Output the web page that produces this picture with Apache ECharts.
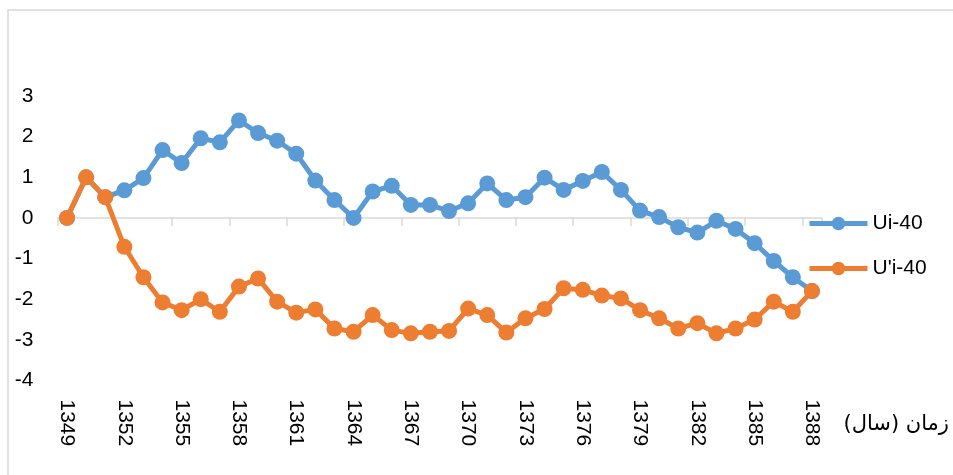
<!DOCTYPE html>
<html>
<head>
<meta charset="utf-8">
<script src="https://cdn.jsdelivr.net/npm/echarts@6/dist/echarts.min.js"></script>
<style>
    html, body {margin: 0; padding: 0; background: #fff;}
    #main {width: 953px; height: 475px;}
</style>
</head>
<body>
<div id="main"></div>
<script>
var years = ['1349', '1350', '1351', '1352', '1353', '1354', '1355', '1356', '1357', '1358',
    '1359', '1360', '1361', '1362', '1363', '1364', '1365', '1366', '1367', '1368',
    '1369', '1370', '1371', '1372', '1373', '1374', '1375', '1376', '1377', '1378',
    '1379', '1380', '1381', '1382', '1383', '1384', '1385', '1386', '1387', '1388'];
var ui = [0, 1.0, 0.51, 0.68, 0.98, 1.67, 1.35, 1.96, 1.86, 2.40,
    2.09, 1.90, 1.58, 0.92, 0.44, 0.0, 0.65, 0.79, 0.32, 0.32,
    0.17, 0.36, 0.85, 0.44, 0.51, 0.99, 0.69, 0.91, 1.13, 0.69,
    0.18, 0.02, -0.23, -0.36, -0.07, -0.27, -0.62, -1.06, -1.46, -1.80];
var uiPrime = [0, 1.0, 0.51, -0.71, -1.46, -2.08, -2.27, -2.0, -2.31, -1.69,
    -1.49, -2.06, -2.33, -2.25, -2.72, -2.80, -2.39, -2.76, -2.84, -2.80,
    -2.78, -2.23, -2.39, -2.82, -2.47, -2.24, -1.73, -1.77, -1.91, -1.98,
    -2.27, -2.47, -2.72, -2.59, -2.84, -2.72, -2.50, -2.06, -2.31, -1.80];
var seriesNames = ['Ui-40', "U'i-40"];
var axisTitle = 'زمان (سال)';

var font = 'Liberation Sans, Arial, sans-serif';
var chart = echarts.init(document.getElementById('main'));

chart.setOption({
    animation: false,
    color: ['#5B9BD5', '#ED7D31'],
    grid: {left: 57.5, right: 131.5, top: 96, bottom: 94.5},
    legend: {
        orient: 'vertical',
        left: 802,
        top: 208,
        itemWidth: 58,
        itemHeight: 17,
        itemGap: 24,
        lineStyle: {width: 5},
        textStyle: {fontFamily: font, fontSize: 21, color: '#000'},
        data: seriesNames
    },
    xAxis: [{
        // labels at the bottom
        type: 'category',
        data: years,
        position: 'bottom',
        boundaryGap: true,
        axisLine: {show: false, onZero: false},
        axisTick: {show: false},
        axisLabel: {
            interval: 2,
            rotate: -90,
            margin: 19,
            fontFamily: font,
            fontSize: 21,
            color: '#000'
        },
        splitLine: {show: false}
    }, {
        // line at zero with the ticks
        type: 'category',
        data: years,
        position: 'top',
        boundaryGap: true,
        axisLine: {show: true, onZero: true, lineStyle: {color: '#d9d9d9', width: 1.5}},
        axisTick: {show: true, inside: true, interval: 2, length: 8, lineStyle: {color: '#d9d9d9', width: 1.5}},
        axisLabel: {show: false},
        splitLine: {show: false}
    }],
    yAxis: {
        type: 'value',
        min: -4,
        max: 3,
        interval: 1,
        axisLine: {show: false},
        axisTick: {show: false},
        splitLine: {show: false},
        axisLabel: {margin: 24, fontFamily: font, fontSize: 21, color: '#000'}
    },
    graphic: [{
        type: 'rect',
        shape: {x: 8, y: 10, width: 1200, height: 800},
        style: {fill: 'none', stroke: '#d9d9d9', lineWidth: 1.5},
        silent: true
    }, {
        type: 'text',
        right: 4,
        top: 414,
        style: {text: axisTitle, font: '21px DejaVu Sans', fill: '#000'}
    }],
    series: [{
        name: seriesNames[0],
        type: 'line',
        data: ui,
        symbol: 'circle',
        symbolSize: 16,
        showAllSymbol: true,
        lineStyle: {width: 5}
    }, {
        name: seriesNames[1],
        type: 'line',
        data: uiPrime,
        symbol: 'circle',
        symbolSize: 16,
        showAllSymbol: true,
        lineStyle: {width: 5}
    }]
});
</script>
</body>
</html>
